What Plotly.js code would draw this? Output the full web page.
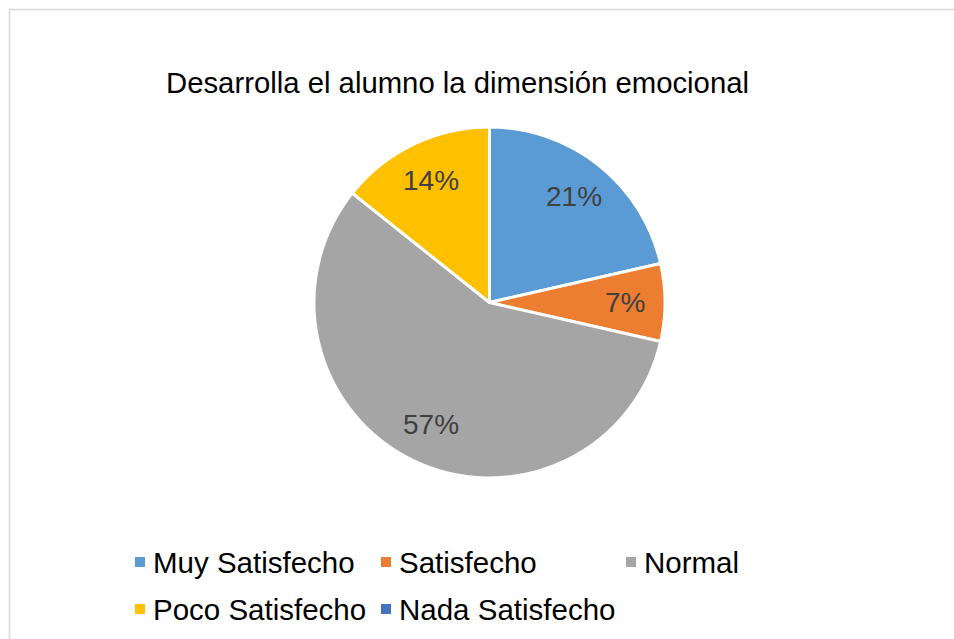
<!DOCTYPE html>
<html>
<head>
<meta charset="utf-8">
<script src="https://cdn.plot.ly/plotly-3.0.1.min.js"></script>
<style>html,body{margin:0;padding:0;background:#fff;}#chart{width:954px;height:639px;}</style>
</head>
<body>
<div id="chart"></div>
<script>
var categories = ["Muy Satisfecho", "Satisfecho", "Normal", "Poco Satisfecho", "Nada Satisfecho"];
var counts = [3, 1, 8, 2, 0];
var colors = ["#5B9BD5", "#ED7D31", "#A5A5A5", "#FFC000", "#4472C4"];
var titleText = "Desarrolla el alumno la dimensión emocional";

var W = 954, H = 639;
var FONT = "Liberation Sans, Arial, sans-serif";
var total = counts.reduce(function(a, b){ return a + b; }, 0);
var labelsText = counts.map(function(v){ return v > 0 ? Math.round(100 * v / total) + "%" : ""; });

// pie geometry (pixels)
var pieL = 314, pieR = 665, pieT = 127, pieB = 478;
var cx = (pieL + pieR) / 2, cy = (pieT + pieB) / 2, R = (pieR - pieL) / 2;

var trace = {
  type: "pie",
  labels: categories,
  values: counts,
  textinfo: "none",
  marker: {colors: colors, line: {color: "#ffffff", width: 3}},
  sort: false,
  direction: "clockwise",
  rotation: 0,
  showlegend: false,
  hoverinfo: "label+percent",
  domain: {x: [pieL / W, pieR / W], y: [1 - pieB / H, 1 - pieT / H]}
};

var shapes = [{
  type: "rect", xref: "paper", yref: "paper",
  x0: 9.5 / W, x1: 1.02, y0: -0.02, y1: 1 - 9.5 / H,
  line: {color: "#D9D9D9", width: 1.5}, fillcolor: "rgba(0,0,0,0)", layer: "below"
}];
var annotations = [{
  text: titleText, xref: "paper", yref: "paper",
  x: 457.5 / W, y: 1 - 83 / H, xanchor: "center", yanchor: "middle",
  showarrow: false, font: {family: FONT, size: 29.3, color: "#000000"}
}];

// data labels placed along each slice's bisector
var cum = 0;
counts.forEach(function(v, i){
  var theta = 2 * Math.PI * (cum + v / 2) / total;
  cum += v;
  if (v <= 0) return;
  var r = 0.77 * R;
  var px = cx + r * Math.sin(theta), py = cy - r * Math.cos(theta);
  annotations.push({
    text: labelsText[i], xref: "paper", yref: "paper",
    x: px / W, y: 1 - py / H, xanchor: "center", yanchor: "middle",
    showarrow: false, font: {family: FONT, size: 28, color: "#404040"}
  });
});

// custom legend (two rows, three columns)
var legX = [135, 381, 626];
var legY = [562, 609];
categories.forEach(function(c, i){
  var col = i % 3, row = Math.floor(i / 3);
  var x = legX[col], y = legY[row];
  shapes.push({
    type: "rect", xref: "paper", yref: "paper",
    x0: x / W, x1: (x + 10) / W, y0: 1 - (y + 5) / H, y1: 1 - (y - 5) / H,
    fillcolor: colors[i], line: {width: 0}
  });
  annotations.push({
    text: c, xref: "paper", yref: "paper",
    x: (x + 16) / W, y: 1 - y / H, xanchor: "left", yanchor: "middle",
    showarrow: false, font: {family: FONT, size: 29.5, color: "#000000"}
  });
});

var layout = {
  width: W, height: H,
  margin: {l: 0, r: 0, t: 0, b: 0},
  paper_bgcolor: "#ffffff",
  showlegend: false,
  shapes: shapes,
  annotations: annotations
};

Plotly.newPlot("chart", [trace], layout, {displayModeBar: false, staticPlot: true});
</script>
</body>
</html>
